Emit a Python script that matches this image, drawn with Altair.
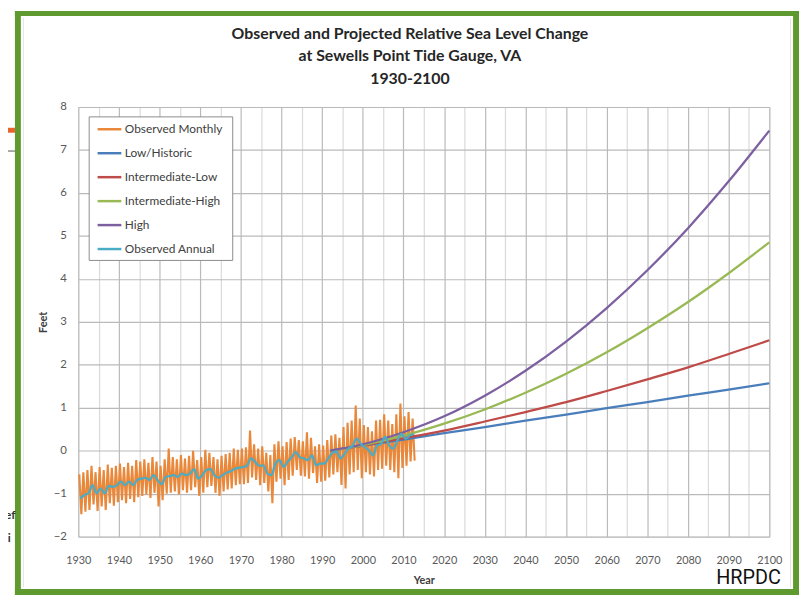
import altair as alt
import pandas as pd

# ---------------- data ----------------
obs_years = list(range(1930, 2013))

annual = [-1.11, -1.03, -0.99, -0.80, -0.99, -0.88, -0.99, -0.82, -0.84, -0.80,
          -0.72, -0.80, -0.72, -0.80, -0.68, -0.65, -0.63, -0.68, -0.57, -0.68,
          -0.78, -0.61, -0.59, -0.57, -0.61, -0.53, -0.57, -0.53, -0.43, -0.65,
          -0.57, -0.45, -0.43, -0.57, -0.63, -0.57, -0.51, -0.48, -0.42, -0.40,
          -0.38, -0.35, -0.18, -0.26, -0.35, -0.34, -0.53, -0.57, -0.30, -0.22,
          -0.38, -0.26, -0.15, -0.03, -0.15, -0.18, -0.22, -0.11, -0.34, -0.30,
          -0.30, -0.18, -0.05, -0.02, -0.18, -0.07, 0.05, 0.12, 0.28, 0.16,
          0.08, 0.01, -0.11, 0.12, 0.16, 0.32, 0.12, 0.05, 0.24, 0.39,
          0.28, 0.35, 0.39]

monthly_high = [-0.55, -0.50, -0.45, -0.35, -0.50, -0.38, -0.45, -0.32, -0.40, -0.35,
                -0.30, -0.38, -0.28, -0.35, -0.22, -0.25, -0.20, -0.28, -0.15, -0.25,
                -0.35, -0.20, 0.05, -0.15, -0.20, -0.10, -0.18, -0.12, 0.00, -0.22,
                -0.15, 0.02, -0.05, -0.15, -0.20, -0.12, -0.08, -0.05, 0.05, 0.02,
                0.05, 0.08, 0.47, 0.15, 0.05, 0.10, -0.05, -0.10, 0.15, 0.22,
                0.10, 0.20, 0.28, 0.32, 0.25, 0.22, 0.43, 0.30, 0.10, 0.15,
                0.12, 0.25, 0.35, 0.38, 0.30, 0.55, 0.65, 0.70, 1.05, 0.75,
                0.60, 0.55, 0.45, 0.70, 0.72, 0.85, 0.70, 0.62, 0.85, 1.10,
                0.80, 0.90, 0.75]

monthly_low = [-1.48, -1.42, -1.38, -1.25, -1.40, -1.30, -1.38, -1.22, -1.28, -1.20,
               -1.15, -1.22, -1.12, -1.20, -1.08, -1.05, -1.02, -1.10, -0.98, -1.30,
               -1.15, -1.00, -0.98, -0.95, -1.02, -0.92, -0.98, -0.92, -0.85, -1.05,
               -0.98, -0.85, -0.82, -0.98, -1.05, -0.95, -0.90, -0.88, -0.80, -0.78,
               -0.78, -0.75, -0.62, -0.68, -0.80, -0.75, -0.95, -1.22, -0.72, -0.65,
               -0.80, -0.68, -0.58, -0.45, -0.58, -0.60, -0.65, -0.52, -0.75, -0.72,
               -0.70, -0.62, -0.55, -0.50, -0.80, -0.88, -0.55, -0.50, -0.45, -0.64,
               -0.50, -0.55, -0.60, -0.45, -0.42, -0.35, -0.45, -0.50, -0.64, -0.40,
               -0.35, -0.25, -0.23]

proj_years = [1992, 2000, 2010, 2020, 2030, 2040, 2050, 2060, 2070, 2080, 2090, 2100]
low_historic = [0, 0.12, 0.26, 0.41, 0.55, 0.70, 0.84, 0.99, 1.13, 1.28, 1.42, 1.57]
intermediate_low = [0, 0.12, 0.29, 0.47, 0.68, 0.90, 1.13, 1.39, 1.66, 1.94, 2.25, 2.57]
intermediate_high = [0, 0.13, 0.35, 0.63, 0.96, 1.35, 1.79, 2.29, 2.85, 3.46, 4.13, 4.85]
high = [0, 0.15, 0.43, 0.80, 1.28, 1.86, 2.54, 3.32, 4.20, 5.18, 6.27, 7.45]

series_names = ["Observed Monthly", "Low/Historic", "Intermediate-Low",
                "Intermediate-High", "High", "Observed Annual"]
series_colors = ["#E9883A", "#4A7EBB", "#BE4B48", "#98B954", "#7D60A0", "#4BACC6"]

title_lines = ["Observed and Projected Relative Sea Level Change",
               "at Sewells Point Tide Gauge, VA", "1930-2100"]

x_ticks = list(range(1930, 2101, 5))
y_ticks = [v / 2 for v in range(-4, 17)]

# ---------------- tables ----------------
mon_rows = []
for yr, hi, lo in zip(obs_years, monthly_high, monthly_low):
    mon_rows.append({"year": yr + 0.25, "feet": hi, "series": "Observed Monthly"})
    mon_rows.append({"year": yr + 0.75, "feet": lo, "series": "Observed Monthly"})
monthly_df = pd.DataFrame(mon_rows)

annual_df = pd.DataFrame({"year": [y + 0.5 for y in obs_years], "feet": annual,
                          "series": "Observed Annual"})

proj_df = pd.concat([
    pd.DataFrame({"year": proj_years, "feet": vals, "series": name})
    for name, vals in [("Low/Historic", low_historic),
                       ("Intermediate-Low", intermediate_low),
                       ("Intermediate-High", intermediate_high),
                       ("High", high)]
])

# ---------------- encodings ----------------
x_enc = alt.X("year:Q",
              scale=alt.Scale(domain=[1930, 2100], nice=False, zero=False),
              axis=alt.Axis(values=x_ticks, format="d",
                            labelExpr="datum.value % 10 == 0 ? datum.label : ''",
                            grid=True,
                            gridColor=alt.condition("datum.value % 10 == 0",
                                                    alt.value("#BABABA"),
                                                    alt.value("#DADADA")),
                            gridWidth=1.2,
                            ticks=False, domain=False, labelPadding=18,
                            labelFont="Lato", labelFontSize=11, labelColor="#595959",
                            title="Year", titleFont="Lato", titleFontSize=11,
                            titleFontWeight="bold", titleColor="#404040",
                            titlePadding=9, labelFlush=False))
y_enc = alt.Y("feet:Q",
              scale=alt.Scale(domain=[-2, 8], nice=False, zero=False),
              axis=alt.Axis(values=y_ticks, format="d",
                            labelExpr="datum.value % 1 == 0 ? datum.label : ''",
                            grid=True,
                            gridColor=alt.condition("datum.value % 1 == 0",
                                                    alt.value("#BABABA"),
                                                    alt.value("#DADADA")),
                            gridWidth=1.2,
                            ticks=False, domain=False, labelPadding=12,
                            labelFont="Lato", labelFontSize=11.5, labelColor="#595959",
                            title="Feet", titleFont="Lato", titleFontSize=11,
                            titleFontWeight="bold", titleColor="#404040",
                            titlePadding=5, labelFlush=False))
color_enc = alt.Color("series:N",
                      scale=alt.Scale(domain=series_names, range=series_colors),
                      legend=alt.Legend(title=None, orient="none", legendX=18, legendY=9,
                                        symbolType="stroke", symbolSize=576,
                                        symbolStrokeWidth=2.5, labelFont="Lato",
                                        labelFontSize=12, labelColor="#404040",
                                        labelOffset=2, rowPadding=4.2, padding=0))

one = pd.DataFrame({"k": [0]})

legend_box = alt.Chart(one).mark_rect(fill="white", stroke="#8C8C8C", strokeWidth=1).encode(
    x=alt.value(11), x2=alt.value(156), y=alt.value(10), y2=alt.value(155))

monthly = alt.Chart(monthly_df).mark_line(strokeWidth=2.1).encode(
    x=x_enc, y=y_enc, color=color_enc)
proj = alt.Chart(proj_df).mark_line(strokeWidth=2.3, interpolate="monotone").encode(
    x=x_enc, y=y_enc, color=color_enc, detail="series:N")
ann = alt.Chart(annual_df).mark_line(strokeWidth=2.2, interpolate="monotone").encode(
    x=x_enc, y=y_enc, color=color_enc)

title_marks = [
    alt.Chart(one).mark_text(text=t, font="Lato", fontSize=16, fontWeight="bold",
                             color="#262626", align="center", baseline="middle").encode(
        x=alt.value(335), y=alt.value(yv))
    for t, yv in zip(title_lines, [-74, -51, -28])
]

# ---------------- decoration (slide frame / background pieces) ----------------
green = "#5E9A2F"
frame = [
    alt.Chart(one).mark_rect(color=green).encode(x=alt.value(-64), x2=alt.value(-58), y=alt.value(-97), y2=alt.value(493)),
    alt.Chart(one).mark_rect(color=green).encode(x=alt.value(-64), x2=alt.value(728), y=alt.value(-97), y2=alt.value(-92)),
    alt.Chart(one).mark_rect(color=green).encode(x=alt.value(722), x2=alt.value(728), y=alt.value(-97), y2=alt.value(493)),
    alt.Chart(one).mark_rect(color=green).encode(x=alt.value(-64), x2=alt.value(728), y=alt.value(487), y2=alt.value(493)),
    alt.Chart(one).mark_rect(color="#E3E3E3").encode(x=alt.value(-56), x2=alt.value(-55), y=alt.value(-90), y2=alt.value(485)),
    alt.Chart(one).mark_rect(color="#E3E3E3").encode(x=alt.value(719), x2=alt.value(720), y=alt.value(-90), y2=alt.value(485)),
    alt.Chart(one).mark_rect(color="#E8622C").encode(x=alt.value(-80), x2=alt.value(-64), y=alt.value(21), y2=alt.value(26)),
    alt.Chart(one).mark_rect(color="#555555").encode(x=alt.value(-80), x2=alt.value(-64), y=alt.value(44), y2=alt.value(45)),
    alt.Chart(one).mark_text(text="Def", align="left", fontSize=12, fontWeight="bold", font="Lato", color="#333333").encode(x=alt.value(-83), y=alt.value(412)),
    alt.Chart(one).mark_text(text="aci", align="left", fontSize=12, fontWeight="bold", font="Lato", color="#333333").encode(x=alt.value(-83), y=alt.value(435)),
    alt.Chart(one).mark_text(text="HRPDC", align="center", baseline="alphabetic", fontSize=20, font="Roboto", color="#111111").encode(x=alt.value(677), y=alt.value(482)),
]

chart = alt.layer(legend_box, monthly, proj, ann, *title_marks, *frame).properties(
    width=698, height=434,
    autosize=alt.AutoSizeParams(type="none"),
    padding={"left": 71, "top": 97, "right": 30, "bottom": 59},
).configure_view(stroke="#404040", strokeWidth=2).configure(background="white")

chart.save("out.html", embed_options={"renderer": "svg", "actions": False})
